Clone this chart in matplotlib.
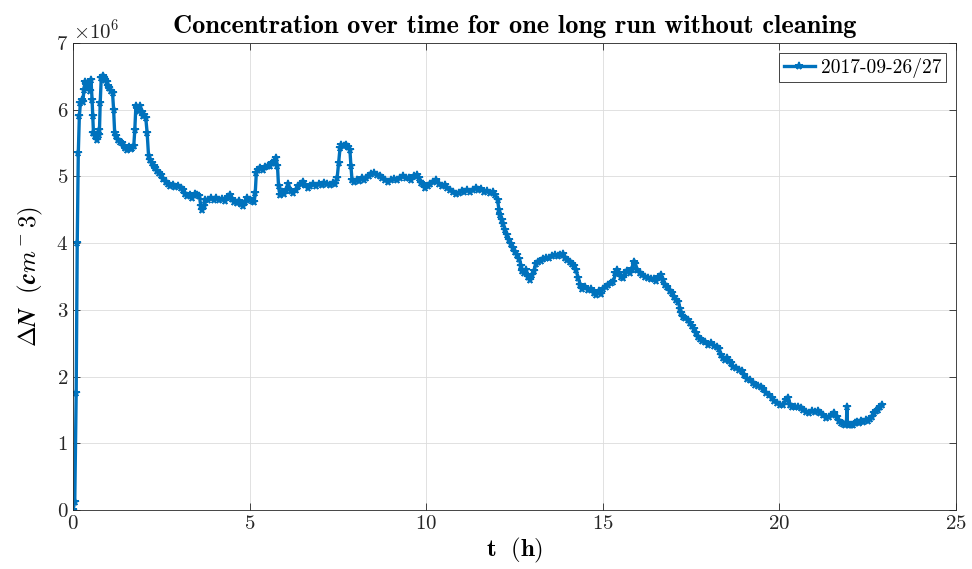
import matplotlib
matplotlib.use("Agg")
import matplotlib.pyplot as plt

plt.rcParams['font.family'] = 'serif'
plt.rcParams['font.serif'] = ['cmr10', 'DejaVu Serif']
plt.rcParams['mathtext.fontset'] = 'cm'
plt.rcParams['axes.formatter.use_mathtext'] = True

# elapsed time (h) and concentration change (1e6 cm^-3)
t_h = [
    0.00, 0.05, 0.09, 0.12, 0.15, 0.18, 0.21, 0.25, 0.28, 0.31, 0.34, 0.38, 0.41, 0.44, 0.48,
    0.51, 0.54, 0.56, 0.58, 0.62, 0.66, 0.69, 0.73, 0.75, 0.77, 0.80, 0.84, 0.88, 0.92, 0.95,
    0.99, 1.03, 1.08, 1.12, 1.15, 1.18, 1.23, 1.28, 1.33, 1.38, 1.43, 1.48, 1.53, 1.58, 1.63,
    1.68, 1.72, 1.75, 1.78, 1.82, 1.86, 1.90, 1.94, 1.98, 2.02, 2.06, 2.10, 2.14, 2.18, 2.23,
    2.28, 2.33, 2.38, 2.43, 2.50, 2.56, 2.62, 2.68, 2.75, 2.82, 2.90, 2.98, 3.05, 3.12, 3.18,
    3.24, 3.31, 3.38, 3.45, 3.52, 3.58, 3.62, 3.66, 3.70, 3.75, 3.82, 3.90, 3.98, 4.06, 4.14,
    4.22, 4.30, 4.38, 4.44, 4.50, 4.57, 4.63, 4.70, 4.76, 4.82, 4.88, 4.94, 5.00, 5.07, 5.13,
    5.16, 5.19, 5.24, 5.30, 5.37, 5.44, 5.51, 5.58, 5.64, 5.70, 5.75, 5.79, 5.82, 5.86, 5.92,
    5.98, 6.04, 6.10, 6.16, 6.22, 6.30, 6.38, 6.45, 6.52, 6.58, 6.65, 6.72, 6.80, 6.88, 6.96,
    7.04, 7.12, 7.20, 7.28, 7.35, 7.42, 7.48, 7.52, 7.56, 7.60, 7.66, 7.72, 7.78, 7.84, 7.87,
    7.90, 7.96, 8.03, 8.10, 8.18, 8.25, 8.31, 8.38, 8.45, 8.52, 8.60, 8.68, 8.76, 8.84, 8.92,
    9.00, 9.08, 9.16, 9.25, 9.33, 9.42, 9.50, 9.58, 9.66, 9.74, 9.80, 9.86, 9.92, 9.98, 10.05,
    10.12, 10.20, 10.28, 10.36, 10.44, 10.52, 10.60, 10.68, 10.76, 10.84, 10.92, 11.00, 11.08,
    11.16, 11.24, 11.32, 11.40, 11.48, 11.56, 11.64, 11.72, 11.80, 11.88, 11.96, 12.02, 12.06,
    12.10, 12.14, 12.18, 12.23, 12.28, 12.34, 12.40, 12.46, 12.52, 12.58, 12.64, 12.68, 12.72,
    12.76, 12.82, 12.88, 12.94, 13.00, 13.06, 13.10, 13.16, 13.24, 13.32, 13.40, 13.48, 13.56,
    13.64, 13.72, 13.80, 13.88, 13.94, 14.00, 14.06, 14.12, 14.18, 14.24, 14.30, 14.36, 14.42,
    14.50, 14.58, 14.66, 14.74, 14.82, 14.88, 14.94, 15.00, 15.08, 15.16, 15.24, 15.30, 15.36,
    15.40, 15.46, 15.52, 15.58, 15.64, 15.70, 15.76, 15.82, 15.88, 15.92, 15.98, 16.04, 16.12,
    16.20, 16.28, 16.36, 16.44, 16.52, 16.58, 16.64, 16.70, 16.76, 16.82, 16.90, 16.96, 17.02,
    17.08, 17.14, 17.18, 17.22, 17.28, 17.34, 17.40, 17.46, 17.52, 17.58, 17.64, 17.70, 17.76,
    17.82, 17.90, 17.98, 18.06, 18.14, 18.22, 18.28, 18.34, 18.40, 18.46, 18.52, 18.58, 18.64,
    18.70, 18.78, 18.86, 18.94, 19.00, 19.08, 19.16, 19.24, 19.32, 19.40, 19.48, 19.55, 19.62,
    19.70, 19.78, 19.86, 19.94, 20.02, 20.10, 20.18, 20.25, 20.30, 20.36, 20.44, 20.52, 20.60,
    20.68, 20.76, 20.84, 20.92, 21.00, 21.08, 21.16, 21.24, 21.32, 21.40, 21.48, 21.56, 21.62,
    21.68, 21.74, 21.80, 21.86, 21.90, 21.91, 21.92, 21.96, 22.02, 22.08, 22.14, 22.20, 22.26,
    22.32, 22.38, 22.44, 22.50, 22.56, 22.62, 22.68, 22.74, 22.80, 22.86, 22.92,
]
dn = [
    0.00, 0.12, 1.75, 4.00, 5.35, 5.90, 6.10, 6.15, 6.12, 6.30, 6.42, 6.38, 6.32, 6.40, 6.28,
    6.45, 6.15, 5.90, 5.65, 5.60, 5.62, 5.55, 5.62, 5.70, 6.10, 6.48, 6.50, 6.47, 6.45, 6.42,
    6.35, 6.33, 6.28, 6.25, 6.00, 5.65, 5.60, 5.55, 5.52, 5.50, 5.45, 5.43, 5.40, 5.44, 5.41,
    5.43, 5.45, 5.70, 6.05, 6.02, 5.98, 6.05, 5.96, 5.90, 5.92, 5.88, 5.65, 5.30, 5.25, 5.20,
    5.15, 5.12, 5.08, 5.05, 5.02, 4.96, 4.92, 4.88, 4.85, 4.87, 4.84, 4.85, 4.82, 4.80, 4.74,
    4.70, 4.72, 4.68, 4.73, 4.72, 4.70, 4.55, 4.50, 4.55, 4.65, 4.64, 4.67, 4.65, 4.67, 4.64,
    4.66, 4.63, 4.69, 4.72, 4.66, 4.62, 4.60, 4.63, 4.58, 4.55, 4.62, 4.67, 4.65, 4.63, 4.62,
    4.75, 5.05, 5.10, 5.12, 5.10, 5.14, 5.15, 5.16, 5.20, 5.22, 5.27, 5.15, 4.85, 4.72, 4.76,
    4.73, 4.80, 4.88, 4.78, 4.75, 4.80, 4.85, 4.88, 4.92, 4.87, 4.83, 4.85, 4.88, 4.86, 4.89,
    4.87, 4.90, 4.88, 4.87, 4.90, 4.88, 4.98, 5.20, 5.42, 5.47, 5.45, 5.47, 5.44, 5.40, 5.15,
    4.95, 4.92, 4.95, 4.93, 4.97, 4.95, 4.98, 5.00, 5.03, 5.05, 5.02, 5.00, 4.97, 4.95, 4.92,
    4.94, 4.96, 4.95, 4.97, 5.00, 4.97, 4.98, 4.95, 5.00, 5.02, 4.97, 4.90, 4.88, 4.82, 4.85,
    4.88, 4.92, 4.95, 4.88, 4.85, 4.87, 4.82, 4.80, 4.76, 4.73, 4.75, 4.78, 4.76,
    4.80, 4.77, 4.80, 4.82, 4.79, 4.81, 4.77, 4.78, 4.75, 4.77, 4.72, 4.65, 4.50,
    4.42, 4.35, 4.28, 4.20, 4.12, 4.05, 3.98, 3.92, 3.87, 3.82, 3.76, 3.65, 3.58,
    3.55, 3.60, 3.50, 3.45, 3.52, 3.58, 3.68, 3.72, 3.73, 3.76, 3.78, 3.77, 3.80,
    3.82, 3.80, 3.82, 3.83, 3.78, 3.74, 3.72, 3.68, 3.65, 3.60, 3.48, 3.38, 3.32,
    3.35, 3.30, 3.32, 3.25, 3.22, 3.28, 3.24, 3.32, 3.35, 3.37, 3.40, 3.42, 3.55,
    3.60, 3.55, 3.50, 3.48, 3.55, 3.58, 3.56, 3.62, 3.72, 3.68, 3.60, 3.56, 3.52,
    3.50, 3.48, 3.46, 3.47, 3.44, 3.50, 3.52, 3.45, 3.38, 3.35, 3.28, 3.25, 3.20,
    3.15, 3.12, 3.02, 2.95, 2.90, 2.88, 2.85, 2.80, 2.76, 2.72, 2.65, 2.60, 2.56,
    2.53, 2.52, 2.48, 2.50, 2.46, 2.44, 2.42, 2.32, 2.28, 2.25, 2.28, 2.24, 2.20,
    2.15, 2.13, 2.10, 2.08, 2.02, 1.97, 1.95, 1.90, 1.88, 1.86, 1.85, 1.82, 1.76,
    1.72, 1.68, 1.63, 1.60, 1.57, 1.58, 1.65, 1.68, 1.58, 1.55, 1.54, 1.55, 1.53,
    1.50, 1.47, 1.46, 1.48, 1.47, 1.48, 1.46, 1.42, 1.38, 1.40, 1.43, 1.45, 1.40,
    1.34, 1.30, 1.29, 1.28, 1.30, 1.55, 1.30, 1.27, 1.28, 1.27, 1.30, 1.32, 1.30,
    1.33, 1.32, 1.35, 1.34, 1.36, 1.40, 1.45, 1.48, 1.50, 1.55, 1.57,
]

run_label = '2017-09-26/27'
blue = '#0072BD'

fig = plt.figure(figsize=(9.72, 5.69), dpi=100)
ax = fig.add_axes([0.0751, 0.1037, 0.9084, 0.8207])

ax.plot(t_h, [v * 1e6 for v in dn], color=blue, lw=2.4, marker='*',
        ms=5.5, mew=1.2, label=run_label)

ax.set_xlim(0, 25)
ax.set_ylim(0, 7e6)
ax.set_xticks(range(0, 26, 5))
ax.set_yticks([i * 1e6 for i in range(8)])

ax.grid(True, color='#dcdcdc', lw=0.6)
ax.set_axisbelow(True)
for s in ax.spines.values():
    s.set_color('#262626')
    s.set_linewidth(0.6)
ax.tick_params(direction='in', length=5, width=0.6, color='#262626',
               top=True, right=True, labelsize=15, labelcolor='#262626')
ax.yaxis.get_offset_text().set_fontsize(15)

ax.set_title('Concentration over time for one long run without cleaning',
             fontfamily='cmb10', fontsize=19, pad=7)
ax.set_xlabel(r'$\mathbf{t\ \ (h)}$', fontsize=18, labelpad=2)
ax.set_ylabel(r'$\boldsymbol{\Delta N\ \ (cm^-3)}$', fontsize=18, labelpad=8)

leg = ax.legend(loc='upper right', fontsize=14, fancybox=False, framealpha=1,
                edgecolor='#262626', borderpad=0.25, handlelength=1.6,
                handletextpad=0.3, borderaxespad=0.5)
leg.get_frame().set_linewidth(0.6)

fig.savefig('out.png', dpi=100)
